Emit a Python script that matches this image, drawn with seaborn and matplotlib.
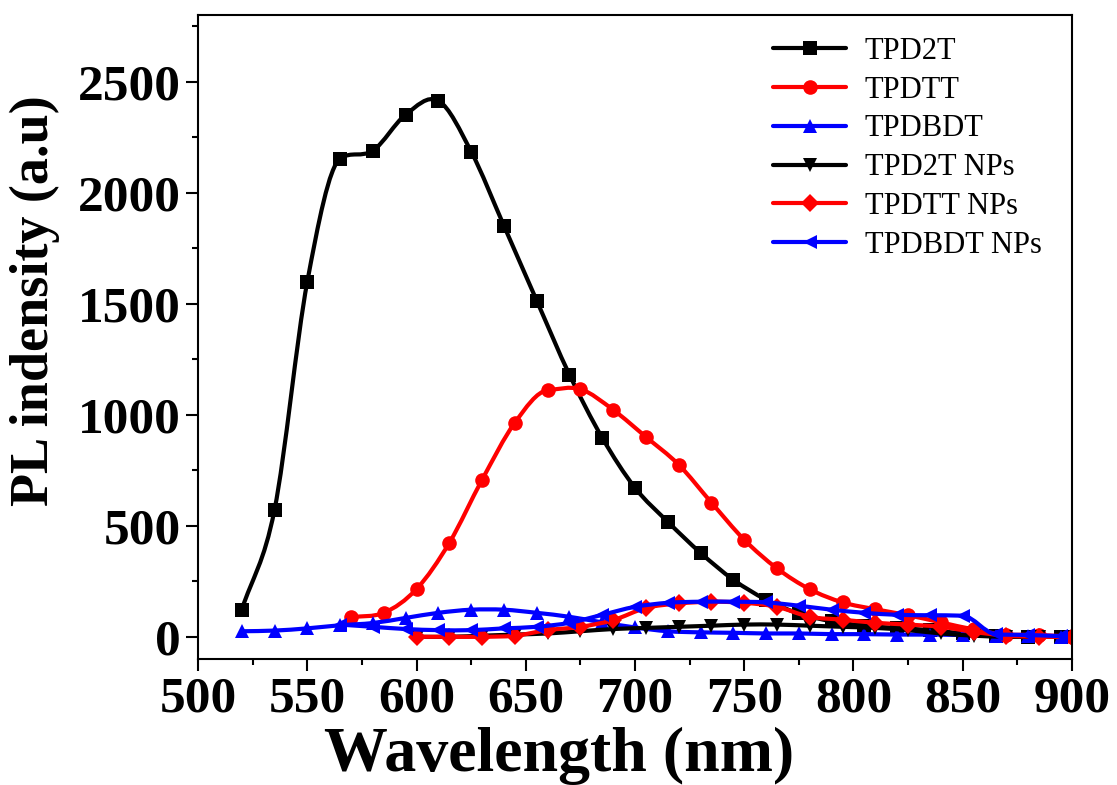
import numpy as np
import pandas as pd
import seaborn as sns
import matplotlib.pyplot as plt
from matplotlib.path import Path
from matplotlib.patches import PathPatch
from matplotlib.ticker import MultipleLocator

# wavelength grids (nm)
wl_a = [520, 535, 550, 565, 580, 595, 610, 625, 640, 655, 670, 685, 700,
        715, 730, 745, 760, 775, 790, 805, 820, 835, 850, 865, 880, 895]
wl_tt = [570, 585, 600, 615, 630, 645, 660, 675, 690, 705, 720, 735, 750,
         765, 780, 795, 810, 825, 840, 855, 870, 885, 900]
wl_np = [600, 615, 630, 645, 660, 675, 690, 705, 720, 735, 750, 765, 780,
         795, 810, 825, 840, 855, 870, 885, 900]
wl_bnp = [565, 580, 595, 610, 625, 640, 655, 670, 685, 700, 715, 730, 745,
          760, 775, 790, 805, 820, 835, 850, 865, 880, 895]

# PL intensity (a.u)
tpd2t = [122, 572, 1599, 2153, 2189, 2351, 2414, 2185, 1851, 1514, 1180, 896, 671,
         518, 378, 257, 167, 105, 70, 50, 40, 30, 15, 5, 0, 0]
tpdtt = [88, 108, 215, 423, 707, 964, 1110, 1115, 1022, 900, 775, 604, 437,
         308, 214, 155, 124, 97, 65, 33, 10, 8, 0]
tpdbdt = [25, 28, 38, 52, 62, 85, 108, 122, 122, 108, 90, 65, 42,
          25, 20, 18, 15, 15, 12, 12, 10, 10, 8, 5, 3, 0]
tpd2t_np = [0, 0, 5, 10, 15, 25, 35, 40, 45, 50, 55, 55, 50,
            45, 40, 30, 15, 5, 0, 0, 0]
tpdtt_np = [0, 0, 0, 5, 30, 45, 75, 130, 150, 158, 153, 135, 90,
            77, 63, 55, 45, 22, 5, 0, 0]
tpdbdt_np = [55, 45, 35, 30, 30, 38, 45, 63, 99, 135, 153, 158, 158,
             155, 140, 122, 108, 99, 97, 95, 12, 8, 3]

series = [
    ("TPD2T", wl_a, tpd2t, "#000000", "s"),
    ("TPDTT", wl_tt, tpdtt, "#ff0000", "o"),
    ("TPDBDT", wl_a, tpdbdt, "#0000ff", "^"),
    ("TPD2T NPs", wl_np, tpd2t_np, "#000000", "v"),
    ("TPDTT NPs", wl_np, tpdtt_np, "#ff0000", "D"),
    ("TPDBDT NPs", wl_bnp, tpdbdt_np, "#0000ff", "<"),
]


def spline_path(x, y):
    # cubic bezier through the data points (Origin "spline" look),
    # Catmull-Rom tangents, limited on monotone stretches to avoid bumps
    x = np.asarray(x, float)
    y = np.asarray(y, float)
    n = len(x)
    d = np.diff(y) / np.diff(x)
    m = np.empty(n)
    m[0], m[-1] = d[0], d[-1]
    for i in range(1, n - 1):
        m[i] = (y[i + 1] - y[i - 1]) / (x[i + 1] - x[i - 1])
        if d[i - 1] * d[i] > 0:
            lim = 3 * min(abs(d[i - 1]), abs(d[i]))
            m[i] = np.sign(m[i]) * min(abs(m[i]), lim)
    verts = [(x[0], y[0])]
    codes = [Path.MOVETO]
    for i in range(n - 1):
        h = x[i + 1] - x[i]
        verts += [(x[i] + h / 3, y[i] + m[i] * h / 3),
                  (x[i + 1] - h / 3, y[i + 1] - m[i + 1] * h / 3),
                  (x[i + 1], y[i + 1])]
        codes += [Path.CURVE4] * 3
    return Path(verts, codes)


sns.set_style("ticks")
plt.rcParams["font.family"] = ["Liberation Serif", "DejaVu Serif"]
plt.rcParams.update({"text.color": "black", "axes.labelcolor": "black",
                     "xtick.color": "black", "ytick.color": "black",
                     "axes.edgecolor": "black"})

fig = plt.figure(figsize=(11.17, 7.85), dpi=100)
ax = fig.add_axes([0.1773, 0.1605, 0.7824, 0.8204])

for k, (name, xs, ys, col, mk) in enumerate(series):
    ax.add_patch(PathPatch(spline_path(xs, ys), fill=False, edgecolor=col,
                           linewidth=3, zorder=2 + k * 0.1))
    df = pd.DataFrame({"wl": xs, "pl": ys})
    sns.lineplot(data=df, x="wl", y="pl", ax=ax, color=col, marker=mk,
                 markersize=10.5 if mk != "D" else 9, linewidth=0,
                 markeredgecolor=col, markeredgewidth=0, label=name,
                 zorder=2.05 + k * 0.1)

ax.set_xlim(500, 900)
ax.set_ylim(-100, 2800)
ax.xaxis.set_major_locator(MultipleLocator(50))
ax.xaxis.set_minor_locator(MultipleLocator(25))
ax.yaxis.set_major_locator(MultipleLocator(500))
ax.yaxis.set_minor_locator(MultipleLocator(250))
ax.tick_params(which="major", direction="out", length=8.6, width=1.5,
               labelsize=37, pad=4, colors="black")
ax.tick_params(which="minor", direction="out", length=4.3, width=1.5,
               colors="black")
for lab in ax.get_xticklabels() + ax.get_yticklabels():
    lab.set_fontweight("bold")
for sp in ax.spines.values():
    sp.set_linewidth(1.5)
    sp.set_color("black")

ax.set_xlabel("Wavelength (nm)", fontsize=46, fontweight="bold", color="black")
ax.set_ylabel("PL indensity (a.u)", fontsize=39, fontweight="bold", color="black")
ax.xaxis.set_label_coords(0.413, -0.106)
ax.yaxis.set_label_coords(-0.158, 0.556)

leg = ax.legend(loc="upper left", bbox_to_anchor=(0.692, 0.953),
                bbox_transform=fig.transFigure, frameon=False,
                prop={"family": "Liberation Serif", "size": 22},
                handlelength=2.4, handletextpad=0.6, labelspacing=0.32,
                borderpad=0, borderaxespad=0)
for ln in leg.get_lines():
    ln.set_linewidth(3)
for t in leg.get_texts():
    t.set_color("black")

fig.savefig("out.png", dpi=100)
